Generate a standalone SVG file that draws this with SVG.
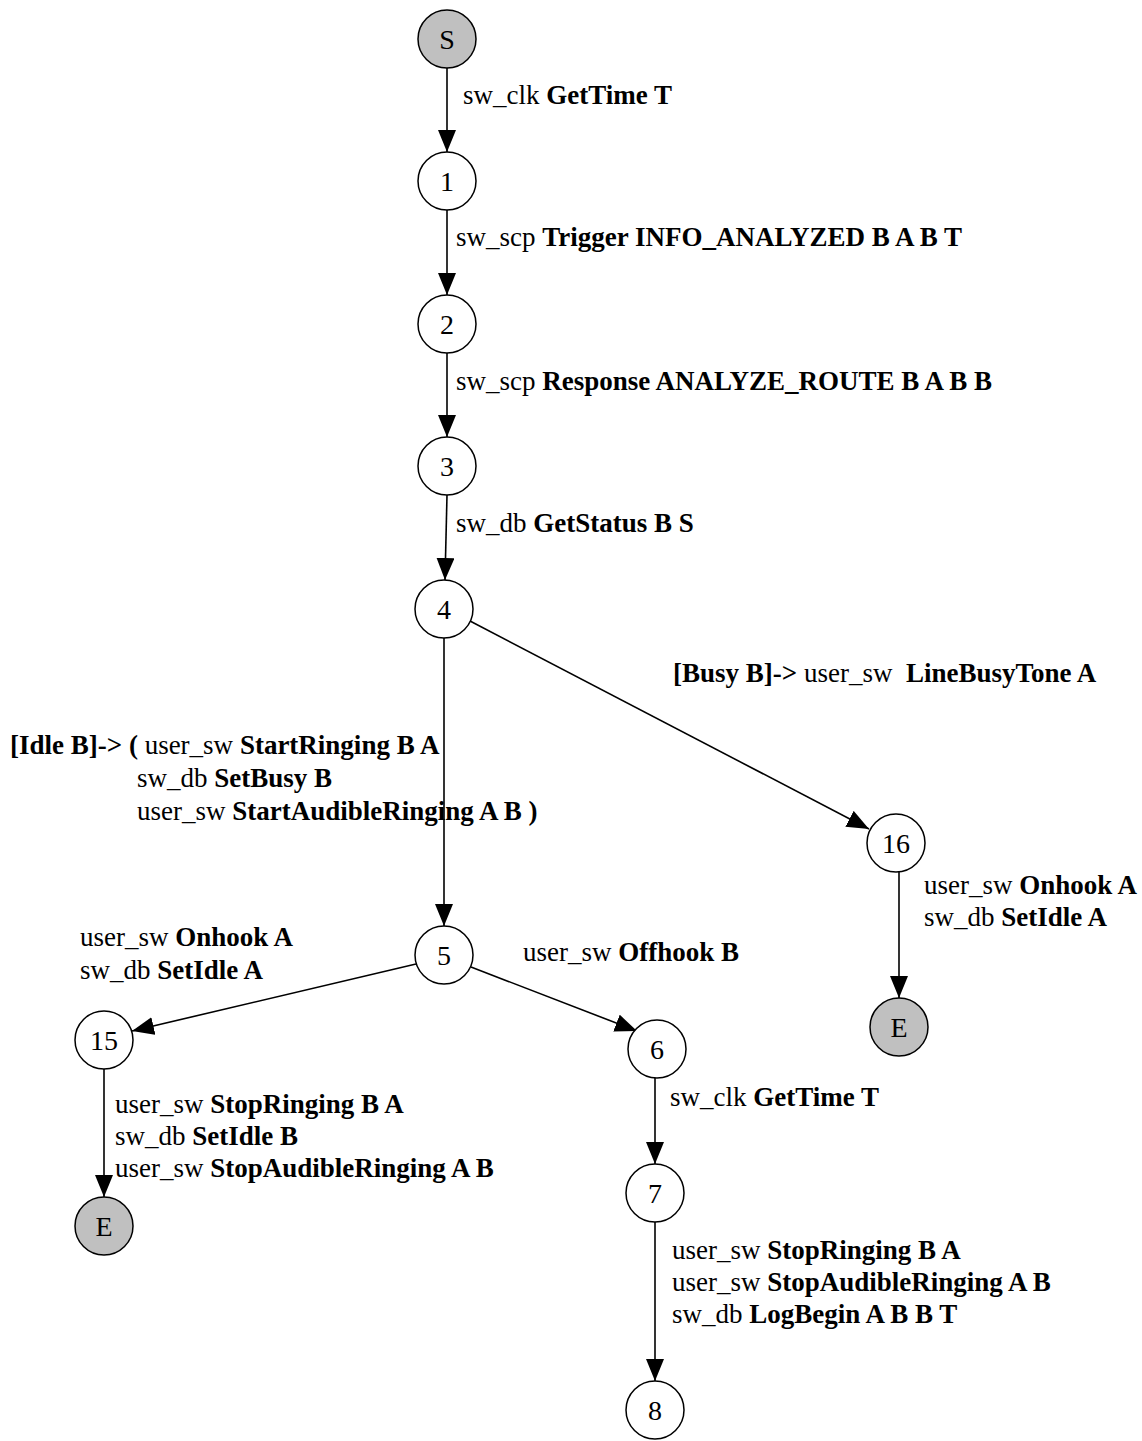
<svg xmlns="http://www.w3.org/2000/svg" width="1142" height="1441" viewBox="0 0 1142 1441">
  <style>
    .node circle { fill: #ffffff; stroke: #000000; stroke-width: 1.5; }
    .node.term circle { fill: #c0c0c0; }
    .node text { font-family: "Liberation Serif", "Times New Roman", serif; font-size: 28px; text-anchor: middle; dominant-baseline: central; fill: #000; }
    .edge { stroke: #000; stroke-width: 1.6; fill: none; marker-end: url(#arrow); }
    .lbl { font-family: "Liberation Serif", "Times New Roman", serif; font-size: 27px; fill: #000; }
    .b { font-weight: bold; }
  </style>
  <defs>
    <marker id="arrow" markerUnits="userSpaceOnUse" markerWidth="24" markerHeight="20" refX="22" refY="9" orient="auto">
      <path d="M0,0 L22,9 L0,18 Z" fill="#000"/>
    </marker>
  </defs>
  <rect width="1142" height="1441" fill="#ffffff"/>

  <!-- connectors -->
  <g id="edges">
    <line class="edge" x1="447" y1="68" x2="447" y2="152"/>
    <line class="edge" x1="447" y1="210" x2="447" y2="295"/>
    <line class="edge" x1="447" y1="353" x2="447" y2="437"/>
    <line class="edge" x1="447" y1="495" x2="445" y2="580"/>
    <line class="edge" x1="444" y1="638" x2="444" y2="926"/>
    <line class="edge" x1="470" y1="621" x2="869" y2="829"/>
    <line class="edge" x1="899" y1="872" x2="899" y2="998"/>
    <line class="edge" x1="416" y1="964" x2="132" y2="1031"/>
    <line class="edge" x1="471" y1="967" x2="637" y2="1031"/>
    <line class="edge" x1="104" y1="1069" x2="104" y2="1197"/>
    <line class="edge" x1="655" y1="1078" x2="655" y2="1164"/>
    <line class="edge" x1="655" y1="1222" x2="655" y2="1381"/>
  </g>

  <!-- connector labels -->
  <g id="labels">
    <text class="lbl" x="463" y="104">sw_clk <tspan class="b">GetTime T</tspan></text>
    <text class="lbl" x="456" y="246">sw_scp <tspan class="b">Trigger INFO_ANALYZED B A B T</tspan></text>
    <text class="lbl" x="456" y="390">sw_scp <tspan class="b">Response ANALYZE_ROUTE B A B B</tspan></text>
    <text class="lbl" x="456" y="532">sw_db <tspan class="b">GetStatus B S</tspan></text>
    <text class="lbl" x="673" y="682" xml:space="preserve"><tspan class="b">[Busy B]-&gt;</tspan> user_sw  <tspan class="b">LineBusyTone A</tspan></text>
    <text class="lbl" x="10" y="754"><tspan class="b">[Idle B]-&gt; (</tspan> user_sw <tspan class="b">StartRinging B A</tspan></text>
    <text class="lbl" x="137" y="787">sw_db <tspan class="b">SetBusy B</tspan></text>
    <text class="lbl" x="137" y="820">user_sw <tspan class="b">StartAudibleRinging A B )</tspan></text>
    <text class="lbl" x="80" y="946">user_sw <tspan class="b">Onhook A</tspan></text>
    <text class="lbl" x="80" y="979">sw_db <tspan class="b">SetIdle A</tspan></text>
    <text class="lbl" x="523" y="961">user_sw <tspan class="b">Offhook B</tspan></text>
    <text class="lbl" x="924" y="894">user_sw <tspan class="b">Onhook A</tspan></text>
    <text class="lbl" x="924" y="926">sw_db <tspan class="b">SetIdle A</tspan></text>
    <text class="lbl" x="115" y="1113">user_sw <tspan class="b">StopRinging B A</tspan></text>
    <text class="lbl" x="115" y="1145">sw_db <tspan class="b">SetIdle B</tspan></text>
    <text class="lbl" x="115" y="1177">user_sw <tspan class="b">StopAudibleRinging A B</tspan></text>
    <text class="lbl" x="670" y="1106">sw_clk <tspan class="b">GetTime T</tspan></text>
    <text class="lbl" x="672" y="1259">user_sw <tspan class="b">StopRinging B A</tspan></text>
    <text class="lbl" x="672" y="1291">user_sw <tspan class="b">StopAudibleRinging A B</tspan></text>
    <text class="lbl" x="672" y="1323">sw_db <tspan class="b">LogBegin A B B T</tspan></text>
  </g>

  <!-- states -->
  <g id="node-S" class="node term"><circle cx="447" cy="39" r="29"/><text x="447" y="39">S</text></g>
  <g id="node-1" class="node"><circle cx="447" cy="181" r="29"/><text x="447" y="181">1</text></g>
  <g id="node-2" class="node"><circle cx="447" cy="324" r="29"/><text x="447" y="324">2</text></g>
  <g id="node-3" class="node"><circle cx="447" cy="466" r="29"/><text x="447" y="466">3</text></g>
  <g id="node-4" class="node"><circle cx="444" cy="609" r="29"/><text x="444" y="609">4</text></g>
  <g id="node-5" class="node"><circle cx="444" cy="955" r="29"/><text x="444" y="955">5</text></g>
  <g id="node-16" class="node"><circle cx="896" cy="843" r="29"/><text x="896" y="843">16</text></g>
  <g id="node-E1" class="node term"><circle cx="899" cy="1027" r="29"/><text x="899" y="1027">E</text></g>
  <g id="node-15" class="node"><circle cx="104" cy="1040" r="29"/><text x="104" y="1040">15</text></g>
  <g id="node-E2" class="node term"><circle cx="104" cy="1226" r="29"/><text x="104" y="1226">E</text></g>
  <g id="node-6" class="node"><circle cx="657" cy="1049" r="29"/><text x="657" y="1049">6</text></g>
  <g id="node-7" class="node"><circle cx="655" cy="1193" r="29"/><text x="655" y="1193">7</text></g>
  <g id="node-8" class="node"><circle cx="655" cy="1410" r="29"/><text x="655" y="1410">8</text></g>
</svg>
